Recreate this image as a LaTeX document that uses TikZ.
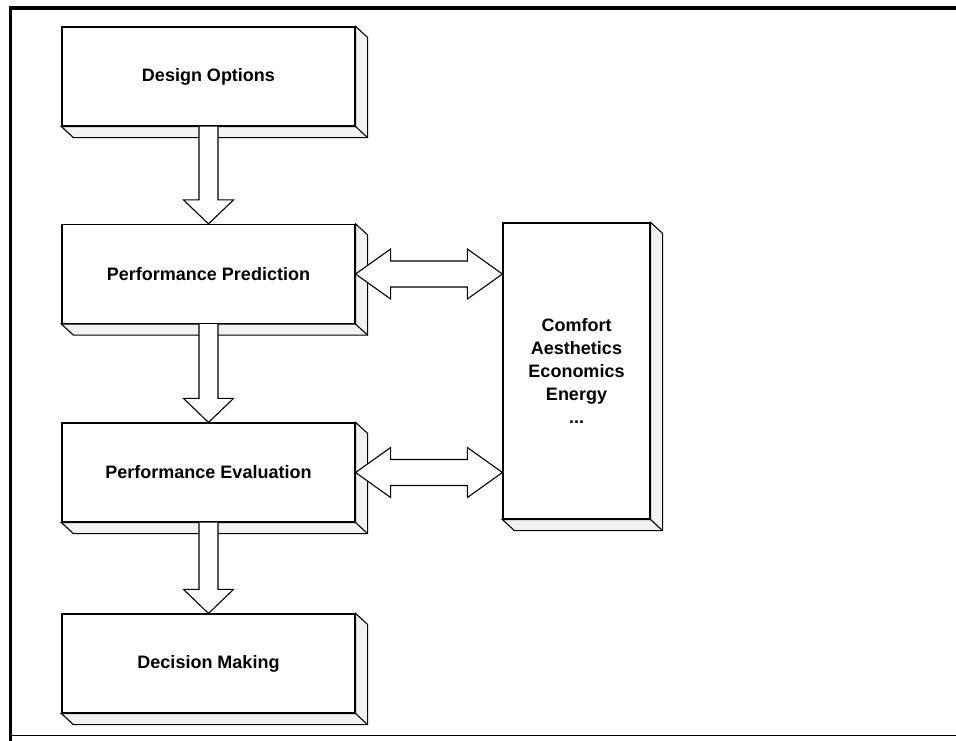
\documentclass[tikz,border=0pt]{standalone}
\usepackage{fontspec}
\setmainfont{Liberation Sans}
\usetikzlibrary{calc}

\tikzset{
	stage/.style={draw,line width=1.2pt,fill=white,inner sep=0pt,minimum width=293pt,minimum height=99pt,font=\fontsize{18}{23}\selectfont\bfseries},
	slab/.style={draw,line width=1.1pt,fill=black!5},
	blockarrow/.style={draw,line width=1.1pt,fill=white,line join=miter},
	frame/.style={line width=3.5pt}
}

% the bevel under and to the right of a box
\newcommand{\slab}[1]{
	\filldraw[slab] (#1.north east) -- ++(12,11) -- ($(#1.south east)+(12,11)$) -- ($(#1.south west)+(12,11)$) -- (#1.south west) -- (#1.south east) -- cycle;
	\draw[slab] (#1.south east) -- ++(12,11);
}
% hollow arrow downwards
\newcommand{\oneway}[2]{
	\draw[blockarrow] ($(#1)+(-9.5,0)$) -- ($(#2)+(-9.5,-24)$) -- ($(#2)+(-25,-24)$) -- (#2) -- ($(#2)+(25,-24)$) -- ($(#2)+(9.5,-24)$) -- ($(#1)+(9.5,0)$);
}
% hollow arrow both ways
\newcommand{\twoway}[2]{
	\draw[blockarrow] (#1) -- ($(#1)+(35,-25)$) -- ($(#1)+(35,-13)$) -- ($(#2)+(-35,-13)$) -- ($(#2)+(-35,-25)$) -- (#2) -- ($(#2)+(-35,25)$) -- ($(#2)+(-35,13)$) -- ($(#1)+(35,13)$) -- ($(#1)+(35,25)$) -- cycle;
}

\begin{document}
\begin{tikzpicture}[x=1pt,y=-1pt]
	\useasboundingbox (0,0) rectangle (956,740);
	\fill[white] (0,0) rectangle (956,740);
	\draw[frame] (960,8) -- (10.5,8) -- (10.5,742);
	\draw[line width=1.2pt] (10.5,735.5) -- (960,735.5);

	\coordinate (p1) at (208.5,76.5);
	\coordinate (p2) at (208.5,274);
	\coordinate (p3) at (208.5,472.5);
	\coordinate (p4) at (208.5,663.5);
	\coordinate (p5) at (576.5,371);

	\node[stage] (design) at (p1) {Design Options};
	\node[stage] (predict) at (p2) {Performance Prediction};
	\node[stage] (evaluate) at (p3) {Performance Evaluation};
	\node[stage] (decide) at (p4) {Decision Making};
	\node[stage,minimum width=147pt,minimum height=296pt,align=center] (criteria) at (p5) {Comfort\\Aesthetics\\Economics\\Energy\\...};

	\slab{design}
	\slab{predict}
	\slab{evaluate}
	\slab{decide}
	\slab{criteria}

	\oneway{design.south}{predict.north}
	\oneway{predict.south}{evaluate.north}
	\oneway{evaluate.south}{decide.north}

	\coordinate (predictR) at (criteria.west |- predict.east);
	\coordinate (evaluateR) at (criteria.west |- evaluate.east);
	\twoway{predict.east}{predictR}
	\twoway{evaluate.east}{evaluateR}
\end{tikzpicture}
\end{document}
